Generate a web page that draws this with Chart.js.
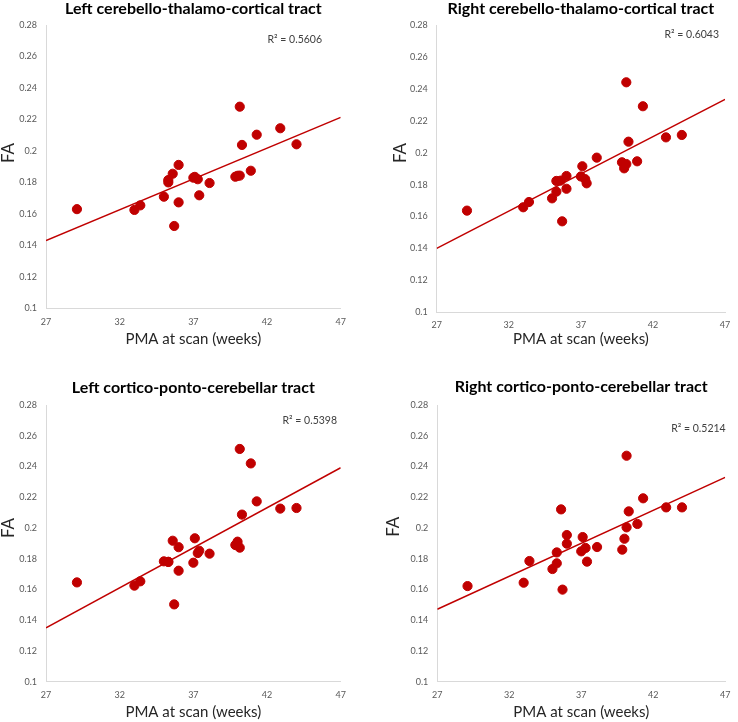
<!DOCTYPE html>
<html>
<head>
<meta charset="utf-8">
<script src="https://cdn.jsdelivr.net/npm/chart.js@4.4.0/dist/chart.umd.min.js"></script>
<style>
  body { margin: 0; background: #fff; }
  #wrap { position: relative; width: 738px; height: 722px; }
  canvas { position: absolute; }
</style>
</head>
<body>
<div id="wrap">
  <canvas id="c1" width="369" height="352" style="left:0;top:0"></canvas>
  <canvas id="c2" width="369" height="352" style="left:369px;top:0"></canvas>
  <canvas id="c3" width="369" height="362" style="left:0;top:360px"></canvas>
  <canvas id="c4" width="369" height="362" style="left:369px;top:360px"></canvas>
</div>
<script>
// PMA at scan (weeks), same subjects in every panel
const pma = [29.1, 33.0, 33.4, 35.0, 35.3, 35.3, 35.6, 35.7, 36.0, 36.0, 37.0, 37.1,
             37.3, 37.4, 38.1, 39.85, 40.0, 40.15, 40.15, 40.3, 40.9, 41.3, 42.9, 44.0];

const faLeftCTC  = [0.163, 0.1625, 0.1654, 0.1709, 0.180, 0.1815, 0.1855, 0.1523, 0.1911, 0.1673, 0.183, 0.1835,
                    0.182, 0.1718, 0.1796, 0.1836, 0.1842, 0.1843, 0.2281, 0.2038, 0.1874, 0.2103, 0.2144, 0.2042];
const faRightCTC = [0.1637, 0.1658, 0.1691, 0.1714, 0.1756, 0.1823, 0.1825, 0.157, 0.1854, 0.1774, 0.1851, 0.1915,
                    0.1834, 0.1808, 0.1969, 0.194, 0.1902, 0.1929, 0.2441, 0.2069, 0.1946, 0.2291, 0.2096, 0.2111];
const faLeftCPC  = [0.1646, 0.1625, 0.1653, 0.1783, 0.1779, 0.178, 0.1917, 0.1503, 0.1875, 0.1722, 0.1774, 0.1933,
                    0.1837, 0.1852, 0.1833, 0.1889, 0.1911, 0.1872, 0.2514, 0.2087, 0.242, 0.2173, 0.2126, 0.213];
const faRightCPC = [0.1622, 0.1644, 0.1785, 0.1733, 0.177, 0.1841, 0.2121, 0.1599, 0.1954, 0.1898, 0.1848, 0.1941,
                    0.187, 0.1781, 0.1876, 0.1859, 0.193, 0.2004, 0.247, 0.2108, 0.2026, 0.2193, 0.2134, 0.2134];

// linear trendline value at x = 27 and x = 47
const trendLeftCTC  = [0.143, 0.2213];
const trendRightCTC = [0.1401, 0.2334];
const trendLeftCPC  = [0.1351, 0.2392];
const trendRightCPC = [0.1471, 0.2329];

const rSquared = ['0.5606', '0.6043', '0.5398', '0.5214'];
const titles = ['Left cerebello-thalamo-cortical tract', 'Right cerebello-thalamo-cortical tract',
                'Left cortico-ponto-cerebellar tract', 'Right cortico-ponto-cerebellar tract'];

const xTicks = [27, 32, 37, 42, 47];
const yTicks = [0.1, 0.12, 0.14, 0.16, 0.18, 0.2, 0.22, 0.24, 0.26, 0.28];

const red = '#c00000';

const panelText = {
  id: 'panelText',
  afterDraw(chart, args, opts) {
    const ctx = chart.ctx;
    ctx.save();
    ctx.fillStyle = '#404040';
    ctx.font = '10.5px Lato';
    ctx.textAlign = 'right';
    ctx.textBaseline = 'middle';
    ctx.fillText('R\u00b2 = ' + opts.r2, opts.r2X, opts.r2Y);
    ctx.translate(opts.faX, opts.faY);
    ctx.rotate(-Math.PI / 2);
    ctx.textAlign = 'center';
    ctx.font = '17px Lato';
    ctx.fillStyle = '#262626';
    ctx.fillText('FA', 0, 0);
    ctx.restore();
  }
};

function makeChart(id, i, fa, trend, lay) {
  new Chart(document.getElementById(id), {
    type: 'scatter',
    data: {
      datasets: [{
        data: pma.map((x, k) => ({x: x, y: fa[k]})),
        backgroundColor: red,
        borderColor: red,
        pointRadius: 4.6,
        pointHoverRadius: 4.6
      }, {
        data: [{x: xTicks[0], y: trend[0]}, {x: xTicks[xTicks.length - 1], y: trend[1]}],
        showLine: true,
        borderColor: red,
        borderWidth: 1.5,
        pointRadius: 0
      }]
    },
    options: {
      responsive: false,
      animation: false,
      layout: {padding: {left: 0, right: lay.right, top: 0, bottom: 0}},
      plugins: {
        legend: {display: false},
        tooltip: {enabled: false},
        title: {
          display: true,
          text: titles[i],
          fullSize: false,
          color: '#000',
          font: {family: 'Lato', size: 16, weight: 'bold', lineHeight: 1},
          padding: lay.titlePad
        },
        panelText: {r2: rSquared[i], r2X: lay.r2X, r2Y: lay.r2Y, faX: lay.faX, faY: lay.faY}
      },
      scales: {
        x: {
          type: 'linear',
          min: 27, max: 47,
          afterBuildTicks: s => { s.ticks = xTicks.map(v => ({value: v})); },
          afterFit: s => { s.height = lay.xH; },
          grid: {display: false, drawTicks: false},
          border: {display: true, color: '#d9d9d9', width: 1},
          ticks: {color: '#595959', font: {family: 'Lato', size: 9}, padding: lay.xTickPad, maxRotation: 0},
          title: {display: true, text: 'PMA at scan (weeks)', color: '#262626',
                  font: {family: 'Lato', size: 15}, padding: {top: 0, bottom: lay.xTitlePad}}
        },
        y: {
          min: 0.1, max: 0.28,
          afterBuildTicks: s => { s.ticks = yTicks.map(v => ({value: v})); },
          afterFit: s => { s.width = lay.left; },
          grid: {display: false, drawTicks: false},
          border: {display: true, color: '#d9d9d9', width: 1},
          ticks: {color: '#595959', font: {family: 'Lato', size: 9}, padding: 9,
                  callback: v => String(+v.toFixed(2))}
        }
      }
    },
    plugins: [panelText]
  });
}

makeChart('c1', 0, faLeftCTC, trendLeftCTC,
  {left: 46, right: 28.3, xH: 43.7, titlePad: {top: 0.5, bottom: 8.5}, xTickPad: 8, xTitlePad: 4,
   r2X: 322, r2Y: 40, faX: 8.5, faY: 153});
makeChart('c2', 1, faRightCTC, trendRightCTC,
  {left: 67.7, right: 7.3, xH: 39.7, titlePad: {top: 0.5, bottom: 8.5}, xTickPad: 7.7, xTitlePad: 4,
   r2X: 350, r2Y: 35, faX: 31.7, faY: 153});
makeChart('c3', 2, faLeftCPC, trendLeftCPC,
  {left: 46, right: 28.3, xH: 40.3, titlePad: {top: 20.3, bottom: 8.7}, xTickPad: 7.6, xTitlePad: 1.3,
   r2X: 337, r2Y: 61, faX: 8.5, faY: 168});
makeChart('c4', 3, faRightCPC, trendRightCPC,
  {left: 68.3, right: 6.7, xH: 40.3, titlePad: {top: 18.7, bottom: 10.3}, xTickPad: 7.6, xTitlePad: 1.3,
   r2X: 356.7, r2Y: 69, faX: 25, faY: 166.7});
</script>
</body>
</html>
